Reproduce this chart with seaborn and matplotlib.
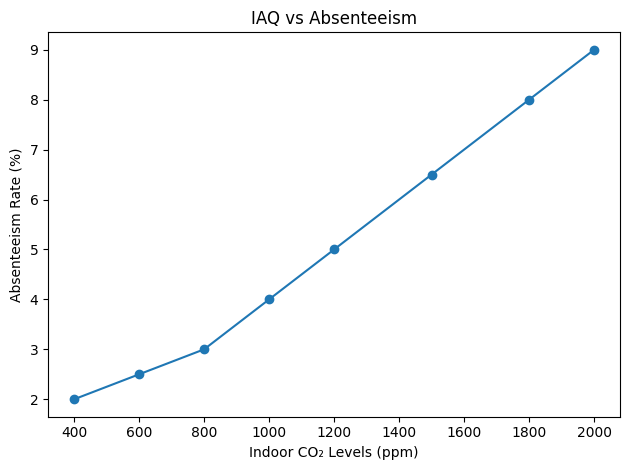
import matplotlib
matplotlib.use("Agg")
import matplotlib.pyplot as plt
import pandas as pd
import seaborn as sns

co2_ppm = [400, 600, 800, 1000, 1200, 1500, 1800, 2000]
absenteeism = [2, 2.5, 3, 4, 5, 6.5, 8, 9]

df = pd.DataFrame({"co2": co2_ppm, "absent": absenteeism})

fig, ax = plt.subplots(figsize=(6.4, 4.8), dpi=100)
sns.lineplot(data=df, x="co2", y="absent", ax=ax, marker="o", color="#1f77b4",
             markersize=6, markeredgecolor="#1f77b4", markeredgewidth=1, linewidth=1.5)
ax.set_title("IAQ vs Absenteeism")
ax.set_xlabel("Indoor CO\u2082 Levels (ppm)")
ax.set_ylabel("Absenteeism Rate (%)")
fig.tight_layout()
fig.savefig("out.png", dpi=100, bbox_inches="tight")
